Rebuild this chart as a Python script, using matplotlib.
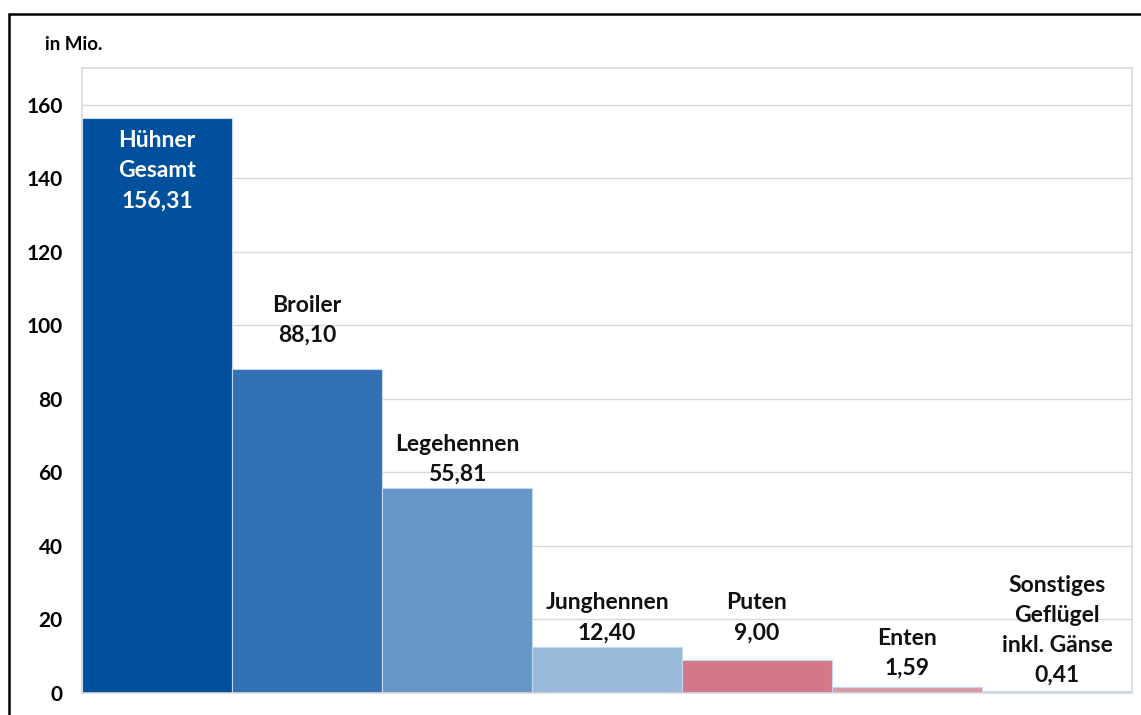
import matplotlib.pyplot as plt
from matplotlib.patches import Rectangle

# data
categories = ['Hühner\nGesamt', 'Broiler', 'Legehennen', 'Junghennen', 'Puten',
              'Enten', 'Sonstiges\nGeflügel\ninkl. Gänse']
values = [156.31, 88.10, 55.81, 12.40, 9.00, 1.59, 0.41]
value_labels = ['156,31', '88,10', '55,81', '12,40', '9,00', '1,59', '0,41']
yticks = [0, 20, 40, 60, 80, 100, 120, 140, 160]

# styling / layout
colors = ['#00509D', '#3271B3', '#6797C8', '#9ABADA', '#D5778A', '#D79BA6', '#B4C7E7']
label_y = [134.4, 97.9, 60.1, 16.9, 16.9, 7.3, 5.4]   # centre of the value line (data units)
label_color = ['white'] + ['#111111'] * 6
LINE_STEP = 21.6  # points between label lines

plt.rcParams['font.family'] = ['Lato', 'DejaVu Sans']
plt.rcParams['font.weight'] = 'bold'

fig = plt.figure(figsize=(11.41, 7.15), dpi=100)
ax = fig.add_axes([82 / 1141, 1 - 693 / 715, 1050 / 1141, 625 / 715])

x = range(len(values))
ax.bar(x, values, width=1.0, color=colors, edgecolor='#C5D9F1', linewidth=0.8, zorder=2)

ax.set_xlim(-0.5, len(values) - 0.5)
ax.set_ylim(0, 170)
ax.set_yticks(yticks)
ax.set_yticklabels([str(t) for t in yticks], fontsize=15, fontweight='bold')
ax.set_xticks([])
ax.tick_params(axis='y', length=0, pad=14)
ax.grid(axis='y', color='#D9D9D9', linewidth=1.0, zorder=0)
for s in ax.spines.values():
    s.set_color('#D9D9D9')
    s.set_linewidth(1.2)

# labels: one text per line, stacked upward from the value line
for i, (cat, lab) in enumerate(zip(categories, value_labels)):
    lines = cat.split('\n') + [lab]
    for k, line in enumerate(reversed(lines)):
        ax.annotate(line, (i, label_y[i]), xytext=(0, k * LINE_STEP),
                    textcoords='offset points', ha='center', va='center_baseline',
                    fontsize=16.5, fontweight='bold', color=label_color[i], zorder=3)

fig.text(45 / 1141, 1 - 44 / 715, 'in Mio.', fontsize=13.5, fontweight='bold',
         ha='left', va='center')

# outer frame (partly cropped)
fig.patches.append(Rectangle((9 / 1141, -0.1), 1.2, 1 - 14 / 715 + 0.1,
                             transform=fig.transFigure, fill=False,
                             edgecolor='black', linewidth=1.8))

fig.savefig('out.png', dpi=100)
